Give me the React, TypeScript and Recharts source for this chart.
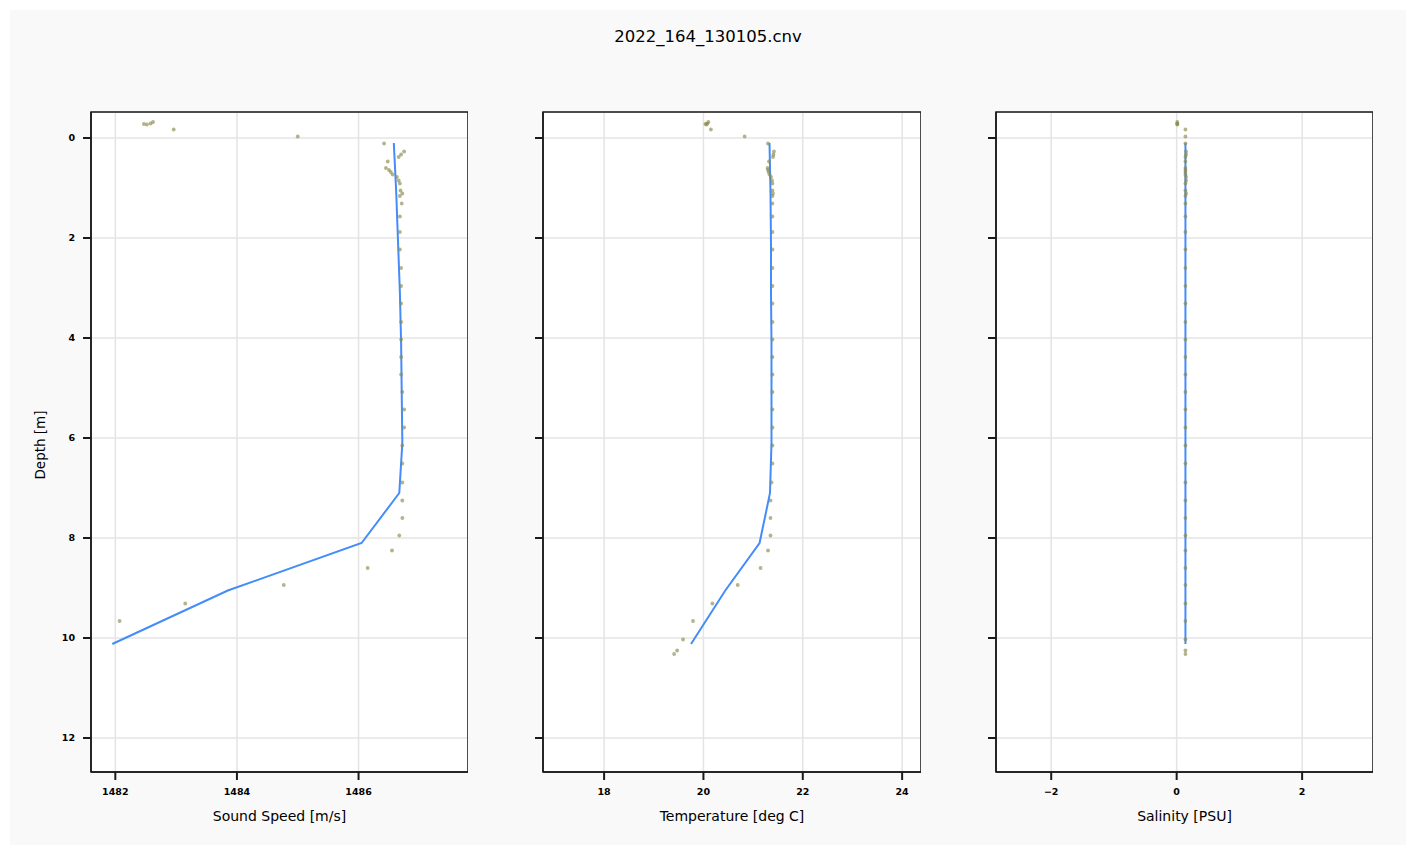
import { ScatterChart, Scatter, XAxis, YAxis, CartesianGrid, ReferenceArea } from 'recharts';

document.body.style.margin = '0';

const FONT = 'DejaVu Sans, sans-serif';
const TITLE = '2022_164_130105.cnv';

// raw samples (one entry per scan), shared depth
const sampleDepth = [
  -0.32, -0.29, -0.28, -0.27, -0.17, -0.03, 0.11, 0.27, 0.33, 0.38, 0.47, 0.6, 0.64, 0.68, 0.73,
  0.78, 0.85, 0.91, 1.05, 1.11, 1.16, 1.31, 1.57, 1.88, 2.23, 2.6, 2.96, 3.31, 3.68, 4.03, 4.38,
  4.73, 5.08, 5.43, 5.79, 6.15, 6.51, 6.89, 7.25, 7.6, 7.95, 8.25, 8.6, 8.94, 9.31, 9.66, 10.03,
  10.25, 10.32,
];
const soundSpeed = [
  1482.62, 1482.58, 1482.47, 1482.52, 1482.96, 1485.0, 1486.42, 1486.75, 1486.7, 1486.66, 1486.48,
  1486.45, 1486.5, 1486.53, 1486.56, 1486.63, 1486.66, 1486.68, 1486.69, 1486.72, 1486.68, 1486.71,
  1486.68, 1486.68, 1486.68, 1486.7, 1486.7, 1486.7, 1486.7, 1486.7, 1486.7, 1486.7, 1486.72,
  1486.75, 1486.75, 1486.72, 1486.72, 1486.72, 1486.72, 1486.72, 1486.67, 1486.55, 1486.15,
  1484.77, 1483.15, 1482.07, null, null, null,
];
const temperature = [
  20.1, 20.08, 20.04, 20.06, 20.15, 20.83, 21.3, 21.42, 21.41, 21.4, 21.32, 21.29, 21.3, 21.31,
  21.33, 21.36, 21.38, 21.39, 21.39, 21.4, 21.39, 21.39, 21.39, 21.39, 21.39, 21.39, 21.39, 21.39,
  21.39, 21.39, 21.39, 21.39, 21.39, 21.39, 21.39, 21.39, 21.39, 21.37, 21.35, 21.35, 21.35, 21.3,
  21.15, 20.69, 20.18, 19.79, 19.59, 19.47, 19.41,
];
const salinity = [
  0.01, 0.01, 0.01, 0.01, 0.14, 0.14, 0.14, 0.15, 0.15, 0.14, 0.14, 0.14, 0.14, 0.14, 0.14, 0.15,
  0.15, 0.14, 0.14, 0.15, 0.14, 0.14, 0.14, 0.14, 0.14, 0.14, 0.14, 0.14, 0.14, 0.14, 0.14, 0.14,
  0.14, 0.14, 0.14, 0.14, 0.14, 0.14, 0.14, 0.14, 0.14, 0.14, 0.14, 0.14, 0.14, 0.14, 0.14, 0.14,
  0.14,
];

// binned profile
const lineDepth = [0.1, 1.1, 2.1, 3.1, 4.1, 5.1, 6.1, 7.1, 8.1, 9.05, 10.12];
const lineSoundSpeed = [
  1486.58, 1486.62, 1486.65, 1486.68, 1486.7, 1486.71, 1486.72, 1486.67, 1486.05, 1483.85, 1481.95,
];
const lineTemperature = [21.33, 21.35, 21.36, 21.36, 21.37, 21.37, 21.37, 21.34, 21.13, 20.44, 19.75];
const lineSalinity = [0.14, 0.14, 0.14, 0.14, 0.14, 0.14, 0.14, 0.14, 0.14, 0.14, 0.14];

const depthTicks = [0, 2, 4, 6, 8, 10, 12];
const soundSpeedTicks = [1482, 1484, 1486];
const temperatureTicks = [18, 20, 22, 24];
const salinityTicks = [-2, 0, 2];

const depthDomain = [-0.52, 12.68];

function fmtTick(v: number) {
  return v < 0 ? `\u2212${Math.abs(v)}` : `${v}`;
}

function pairs(values: (number | null)[], depths: number[]) {
  return depths
    .map((d, i) => ({ depth: d, x: values[i] }))
    .filter((p) => p.x !== null && p.x !== undefined);
}

// eslint-disable-next-line @typescript-eslint/no-explicit-any
function Dot(props: any) {
  return <circle cx={props.cx} cy={props.cy} r={1.9} fill="#8a8a4e" fillOpacity={0.65} />;
}

function NoShape() {
  return <g />;
}

interface PanelProps {
  left: number;
  width: number;
  axisWidth: number;
  samples: { depth: number; x: number | null }[];
  profile: { depth: number; x: number | null }[];
  xDomain: number[];
  xTicks: number[];
  xLabel: string;
  depthLabels?: boolean;
}

function Panel({ left, width, axisWidth, samples, profile, xDomain, xTicks, xLabel, depthLabels }: PanelProps) {
  const tickStyle = { fill: '#000', fontSize: 9.5, fontWeight: 600, fontFamily: FONT };
  return (
    <div style={{ position: 'absolute', left, top: 0 }}>
      <ScatterChart width={width} height={845} margin={{ top: 112, right: 0, bottom: 0, left: 0 }}>
        <CartesianGrid fill="#fff" stroke="#e4e4e4" strokeWidth={1.5} />
        <XAxis
          type="number"
          dataKey="x"
          domain={xDomain}
          ticks={xTicks}
          allowDataOverflow
          height={73}
          tickSize={8}
          tickMargin={8}
          tick={tickStyle}
          tickFormatter={fmtTick}
          axisLine={{ stroke: '#1a1a1a', strokeWidth: 1.5 }}
          tickLine={{ stroke: '#1a1a1a', strokeWidth: 2 }}
          label={{
            // eslint-disable-next-line @typescript-eslint/no-explicit-any
            content: ({ viewBox }: any) => (
              <text
                x={viewBox.x + viewBox.width / 2}
                y={viewBox.y + 49}
                textAnchor="middle"
                fontSize={14}
                fontFamily={FONT}
                fill="#000"
              >
                {xLabel}
              </text>
            ),
          }}
        />
        <YAxis
          type="number"
          dataKey="depth"
          domain={depthDomain}
          ticks={depthTicks}
          reversed
          allowDataOverflow
          width={axisWidth}
          tickSize={8}
          tickMargin={8}
          tick={tickStyle}
          tickFormatter={depthLabels ? fmtTick : () => ''}
          axisLine={{ stroke: '#1a1a1a', strokeWidth: 1.5 }}
          tickLine={{ stroke: '#1a1a1a', strokeWidth: 2 }}
          label={
            depthLabels
              ? {
                  // eslint-disable-next-line @typescript-eslint/no-explicit-any
                  content: ({ viewBox }: any) => {
                    const cx = viewBox.x + 40;
                    const cy = viewBox.y + viewBox.height / 2 + 3;
                    return (
                      <text
                        x={cx}
                        y={cy}
                        transform={`rotate(-90, ${cx}, ${cy})`}
                        textAnchor="middle"
                        dominantBaseline="central"
                        fontSize={13.5}
                        fontFamily={FONT}
                        fill="#000"
                      >
                        Depth [m]
                      </text>
                    );
                  },
                }
              : undefined
          }
        />
        <ReferenceArea
          x1={xDomain[0]}
          x2={xDomain[1]}
          y1={depthDomain[0]}
          y2={depthDomain[1]}
          fill="none"
          stroke="#1a1a1a"
          strokeWidth={1.5}
          ifOverflow="visible"
        />
        <Scatter
          data={profile}
          shape={NoShape}
          line={{ stroke: '#448cfa', strokeWidth: 2 }}
          isAnimationActive={false}
        />
        <Scatter data={samples} shape={Dot} isAnimationActive={false} />
      </ScatterChart>
    </div>
  );
}

export default function App() {
  return (
    <div style={{ position: 'relative', width: 1416, height: 845, background: '#fff', overflow: 'hidden' }}>
      <div style={{ position: 'absolute', left: 10, top: 10, width: 1396, height: 835, background: '#f9f9f9' }} />
      <div
        style={{
          position: 'absolute',
          left: 0,
          width: 1416,
          top: 27,
          textAlign: 'center',
          fontFamily: FONT,
          fontSize: 16.5,
          color: '#000',
        }}
      >
        {TITLE}
      </div>
      <Panel
        left={0}
        width={468}
        axisWidth={91}
        samples={pairs(soundSpeed, sampleDepth)}
        profile={pairs(lineSoundSpeed, lineDepth)}
        xDomain={[1481.6, 1487.8]}
        xTicks={soundSpeedTicks}
        xLabel="Sound Speed [m/s]"
        depthLabels
      />
      <Panel
        left={480}
        width={441}
        axisWidth={63}
        samples={pairs(temperature, sampleDepth)}
        profile={pairs(lineTemperature, lineDepth)}
        xDomain={[16.77, 24.38]}
        xTicks={temperatureTicks}
        xLabel="Temperature [deg C]"
      />
      <Panel
        left={932}
        width={441}
        axisWidth={64}
        samples={pairs(salinity, sampleDepth)}
        profile={pairs(lineSalinity, lineDepth)}
        xDomain={[-2.88, 3.13]}
        xTicks={salinityTicks}
        xLabel="Salinity [PSU]"
      />
    </div>
  );
}
